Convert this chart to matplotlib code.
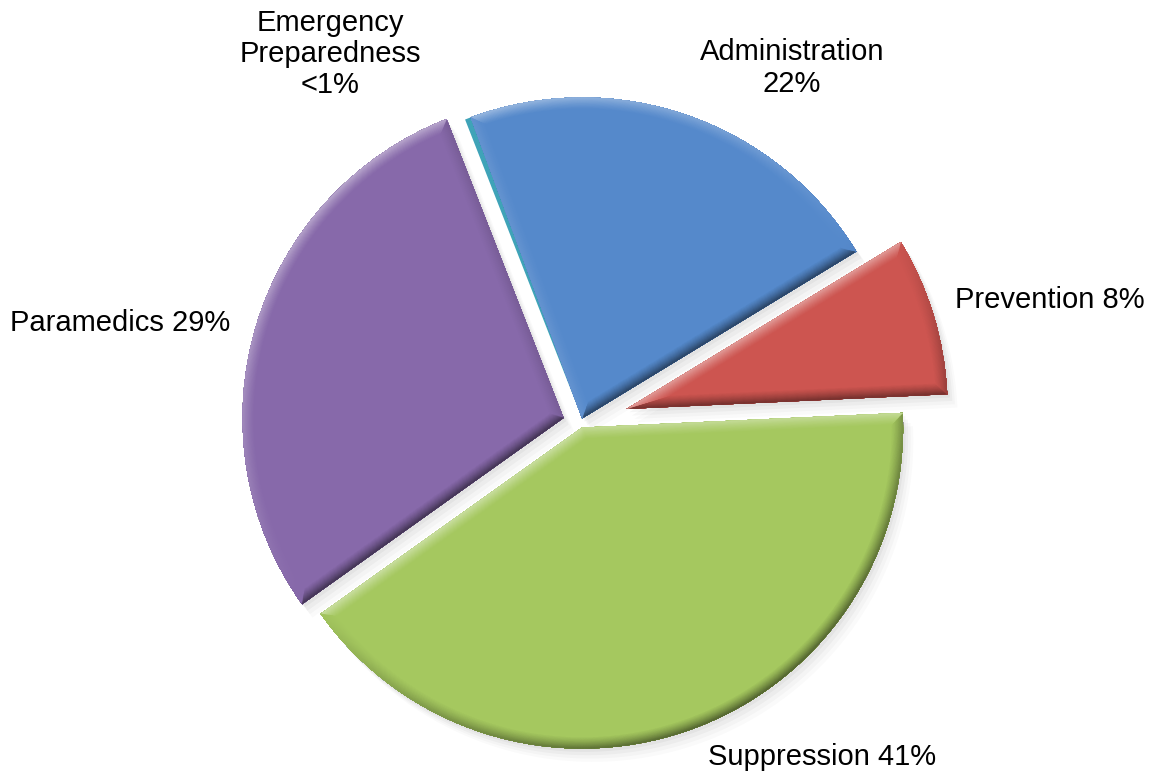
import numpy as np
import matplotlib
matplotlib.use("Agg")
import matplotlib.pyplot as plt
from matplotlib.collections import LineCollection
from matplotlib.colors import to_rgb

plt.rcParams['font.family'] = ['Liberation Sans', 'DejaVu Sans']

# Budget shares by division
categories = ["Administration", "Prevention", "Suppression", "Paramedics",
              "Emergency Preparedness"]
values = [22, 8, 41, 29, 0.3]
label_texts = ["Administration\n22%", "Prevention 8%", "Suppression 41%",
               "Paramedics 29%", "Emergency\nPreparedness\n<1%"]

colors = ["#5589CB", "#CD5550", "#A5C85F", "#8769AA", "#3FA3B8"]
explode = [0.015, 0.15, 0.015, 0.055, 0.015]

W, H = 1152, 779
fig = plt.figure(figsize=(W / 100, H / 100), dpi=100)
ax = fig.add_axes([0, 0, 1, 1])

wedges, _ = ax.pie(values, explode=explode, colors=colors, startangle=110.3,
                   counterclock=False, radius=1, center=(0, 0),
                   wedgeprops=dict(linewidth=0))
# the tiny slice rides along the administration slice
wedges[4].set_center(wedges[0].center)

cx, cy, r = 580.5, 423, 321
ax.set_aspect('auto')
ax.set_xlim(-cx / r, (W - cx) / r)
ax.set_ylim((cy - H) / r, cy / r)
ax.axis('off')


def mix(c, other, t):
    c = np.array(to_rgb(c))
    return tuple(c * (1 - t) + np.array(other) * t)


# soft drop shadow under the slices
for w in wedges:
    th1, th2 = w.theta1, w.theta2
    ang = np.radians(np.linspace(th1, th2, 120))
    x0, y0 = w.center
    for k, a in enumerate([0.035, 0.03, 0.025, 0.02]):
        off = 0.008 * (k + 1)
        xs = np.concatenate([[x0], x0 + w.r * np.cos(ang)]) + off
        ys = np.concatenate([[y0], y0 + w.r * np.sin(ang)]) - off * 1.3
        ax.fill(xs, ys, color="black", alpha=a, lw=0, zorder=0)

# bevelled rims: boundary strokes clipped to each wedge, shaded by the
# direction each edge faces relative to a light from the upper left
light = np.array([-0.55, 0.83])
light /= np.linalg.norm(light)
fig.canvas.draw()
for idx, (w, col) in enumerate(zip(wedges, colors)):
    th1, th2 = w.theta1, w.theta2
    n_arc = max(int(abs(th2 - th1) * 2), 8)
    ang = np.radians(np.linspace(th1, th2, n_arc))
    x0, y0 = w.center
    pts = [(x0, y0)]
    pts += [(x0 + w.r * np.cos(a), y0 + w.r * np.sin(a)) for a in ang]
    pts.append((x0, y0))
    pts = np.array(pts)
    # densify the straight sides
    dense = []
    for i in range(len(pts) - 1):
        p, q = pts[i], pts[i + 1]
        m = 30 if i in (0, len(pts) - 2) else 1
        for t in np.linspace(0, 1, m, endpoint=False):
            dense.append(p + (q - p) * t)
    dense.append(pts[-1])
    dense = np.array(dense)
    disp = ax.transData.transform(dense)
    segs, shades = [], []
    for i in range(len(dense) - 1):
        d = disp[i + 1] - disp[i]
        nrm = np.hypot(*d)
        if nrm == 0:
            continue
        n = np.array([d[1], -d[0]]) / nrm
        segs.append([dense[i], dense[i + 1]])
        shades.append(float(n @ light))
    shades = np.array(shades)
    if idx == 4:
        # the sliver is too thin for a rim of its own
        w.set_zorder(2)
        continue
    widths = np.linspace(16, 1.5, 14)
    strengths = np.linspace(0.12, 1.0, 14) ** 1.3
    for lw, strength in zip(widths, strengths):
        cols = []
        for s in shades:
            if s >= 0:
                cols.append(mix(col, (1, 1, 1), 0.38 * s * strength))
            else:
                cols.append(mix(col, (0, 0, 0), 0.48 * (-s) * strength))
        lc = LineCollection(segs, colors=cols, linewidths=lw,
                            capstyle='round', joinstyle='round', zorder=3)
        lc.set_clip_path(w)
        ax.add_collection(lc)
    # narrow highlight ridge where the rim meets the flat face
    ridge = [mix(col, (1, 1, 1), 0.30 * max(s, 0) + 0.05) for s in shades]
    lc = LineCollection(segs, colors=ridge, linewidths=2.2, alpha=0.8,
                        capstyle='round', zorder=2.9)
    lc.set_clip_path(w)
    ax.add_collection(lc)
    w.set_zorder(2)

# slice labels
label_pos = [(792, 68), (1050, 300), (822, 757), (120, 323), (330, 54)]
for txt, (px, py) in zip(label_texts, label_pos):
    fig.text(px / W, 1 - py / H, txt, ha='center', va='center',
             fontsize=21, color='black', linespacing=1.15)

fig.savefig("out.png", dpi=100, facecolor="white")
